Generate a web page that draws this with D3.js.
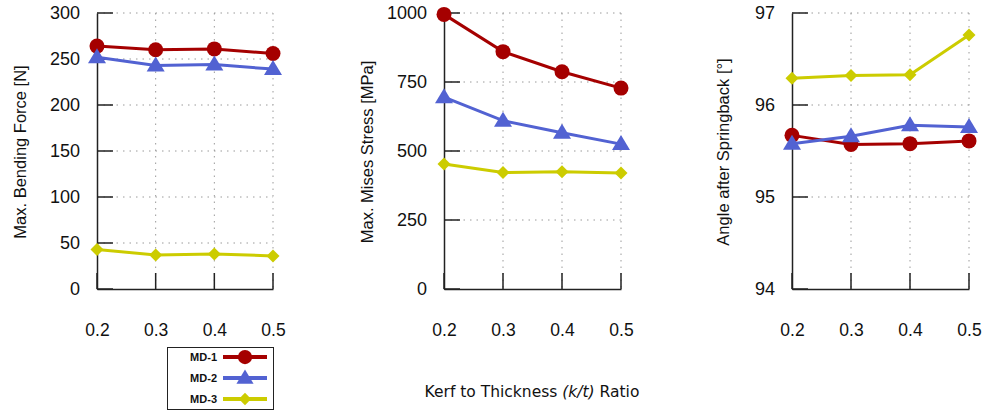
<!DOCTYPE html>
<html><head><meta charset="utf-8">
<script src="https://cdn.jsdelivr.net/npm/d3@7"></script>
<style>
body{margin:0;background:#fff;}
svg{display:block;}
text{font-family:"Liberation Sans",Arial,sans-serif;fill:#111;}
</style></head>
<body>
<svg id="chart" width="987" height="414"></svg>
<script>
const kRatio = [0.2, 0.3, 0.4, 0.5];
const seriesNames = ["MD-1", "MD-2", "MD-3"];

const forceMD1 = [264, 260, 261, 256];
const forceMD2 = [252, 243, 244, 239];
const forceMD3 = [43, 37, 38, 36];

const stressMD1 = [995, 860, 787, 728];
const stressMD2 = [695, 610, 566, 525];
const stressMD3 = [453, 422, 425, 420];

const angleMD1 = [95.67, 95.57, 95.58, 95.61];
const angleMD2 = [95.58, 95.66, 95.78, 95.76];
const angleMD3 = [96.29, 96.32, 96.33, 96.76];

const forceTicks = [0, 50, 100, 150, 200, 250, 300];
const stressTicks = [0, 250, 500, 750, 1000];
const angleTicks = [94, 95, 96, 97];
const xTickLabels = ["0.2", "0.3", "0.4", "0.5"];

const colors = ["#a50000", "#5262d2", "#cccc00"];
const markers = ["circle", "triangle", "diamond"];

const svg = d3.select("#chart");

const panels = [
  {title: "Max. Bending Force [N]", domain: [0, 300], ticks: forceTicks, data: [forceMD1, forceMD2, forceMD3], left: 97, right: 273, titleX: 20},
  {title: "Max. Mises Stress [MPa]", domain: [0, 1000], ticks: stressTicks, data: [stressMD1, stressMD2, stressMD3], left: 444, right: 621, titleX: 367},
  {title: "Angle after Springback  [°]", domain: [94, 97], ticks: angleTicks, data: [angleMD1, angleMD2, angleMD3], left: 792, right: 969, titleX: 723}
];
const plotTop = 13, plotBottom = 289;

function drawMarker(g, type, x, y, color, scale) {
  scale = scale || 1;
  if (type === "circle") {
    g.append("circle").attr("cx", x).attr("cy", y).attr("r", 7.5 * scale).attr("fill", color);
  } else if (type === "triangle") {
    const w = 9 * scale, h = 15 * scale;
    g.append("path").attr("d", `M${x},${y - h * 0.6}L${x + w},${y + h * 0.4}L${x - w},${y + h * 0.4}Z`).attr("fill", color);
  } else {
    const d = 6.5 * scale;
    g.append("path").attr("d", `M${x},${y - d}L${x + d},${y}L${x},${y + d}L${x - d},${y}Z`).attr("fill", color);
  }
}

panels.forEach(p => {
  const x = d3.scaleLinear().domain([0.2, 0.5]).range([p.left, p.right]);
  const y = d3.scaleLinear().domain(p.domain).range([plotBottom, plotTop]);
  const g = svg.append("g");

  // grid
  p.ticks.forEach(t => {
    if (t === p.domain[0]) return;
    g.append("line").attr("x1", p.left).attr("x2", p.right).attr("y1", y(t)).attr("y2", y(t))
      .attr("stroke", "#9a9a9a").attr("stroke-width", 1).attr("stroke-dasharray", "1.5,5");
  });
  kRatio.forEach(k => {
    if (k === 0.2) return;
    g.append("line").attr("x1", x(k)).attr("x2", x(k)).attr("y1", plotTop).attr("y2", plotBottom)
      .attr("stroke", "#9a9a9a").attr("stroke-width", 1).attr("stroke-dasharray", "1.5,5");
  });

  // axes
  const yAxis = d3.axisLeft(y).tickValues(p.ticks).tickSize(0).tickPadding(17).tickFormat(d3.format("d"));
  const ya = g.append("g").attr("transform", `translate(${p.left},0)`).call(yAxis);
  ya.select(".domain").attr("stroke", "#222").attr("stroke-width", 1.5);
  ya.selectAll("text").attr("font-size", 18).attr("fill", "#111").style("font-family", "'Liberation Sans',Arial,sans-serif");
  p.ticks.forEach(t => {
    g.append("line").attr("x1", p.left).attr("x2", p.left + 16).attr("y1", y(t)).attr("y2", y(t))
      .attr("stroke", "#222").attr("stroke-width", 1.5);
  });

  const xAxis = d3.axisBottom(x).tickValues(kRatio).tickSize(0).tickPadding(0).tickFormat((d, i) => xTickLabels[i]);
  const xa = g.append("g").attr("transform", `translate(0,${plotBottom})`).call(xAxis);
  xa.select(".domain").attr("stroke", "#222").attr("stroke-width", 1.5);
  xa.selectAll("text").attr("font-size", 17.5).attr("fill", "#111").attr("dy", 0).attr("y", 47)
    .style("font-family", "'Liberation Sans',Arial,sans-serif");
  kRatio.forEach(k => {
    g.append("line").attr("x1", x(k)).attr("x2", x(k)).attr("y1", plotBottom).attr("y2", plotBottom - 16)
      .attr("stroke", "#222").attr("stroke-width", 1.5);
  });

  // title
  g.append("text").attr("transform", `translate(${p.titleX},152) rotate(-90)`)
    .attr("text-anchor", "middle").attr("dy", "0.35em").attr("font-size", 16.5).text(p.title);

  // series
  p.data.forEach((vals, si) => {
    const line = d3.line().x((d, i) => x(kRatio[i])).y(d => y(d));
    g.append("path").attr("d", line(vals)).attr("fill", "none").attr("stroke", colors[si]).attr("stroke-width", 3);
    vals.forEach((v, i) => drawMarker(g, markers[si], x(kRatio[i]), y(v), colors[si]));
  });
});

// legend
const lg = svg.append("g");
lg.append("rect").attr("x", 167.5).attr("y", 347.5).attr("width", 106).attr("height", 62)
  .attr("fill", "#fff").attr("stroke", "#222").attr("stroke-width", 1);
seriesNames.forEach((name, i) => {
  const yy = 357 + i * 21;
  lg.append("text").attr("x", 217).attr("y", yy).attr("dy", "0.35em").attr("text-anchor", "end")
    .attr("font-size", 11).attr("font-weight", 600).text(name);
  lg.append("line").attr("x1", 223).attr("x2", 267).attr("y1", yy).attr("y2", yy)
    .attr("stroke", colors[i]).attr("stroke-width", 4);
  drawMarker(lg, markers[i], 245, yy, colors[i], 0.95);
});

// x title
const xt = svg.append("text").attr("x", 532).attr("y", 392).attr("dy", "0.35em").attr("text-anchor", "middle")
  .attr("font-size", 15.5).style("font-family", "'DejaVu Sans',Verdana,sans-serif");
xt.append("tspan").text("Kerf to Thickness ");
xt.append("tspan").attr("font-style", "italic").text("(k/t)");
xt.append("tspan").text(" Ratio");
</script>
</body></html>
